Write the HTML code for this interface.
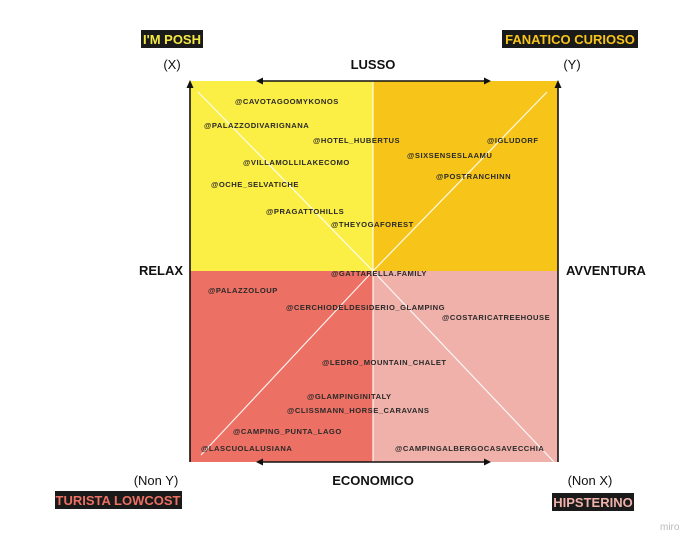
<!DOCTYPE html>
<html><head><meta charset="utf-8"><style>
html,body{margin:0;padding:0;background:#fff;}
svg text{font-family:"Liberation Sans",sans-serif;}
.t{font-size:7.6px;font-weight:bold;fill:#2a2a2a;letter-spacing:0.5px;}
.h{font-size:13px;font-weight:bold;fill:#111;}
.p{font-size:13px;fill:#111;}
.tag{font-size:13px;font-weight:bold;}
</style></head><body>
<svg width="700" height="547" xmlns="http://www.w3.org/2000/svg">
<rect x="190" y="81" width="183" height="190" fill="#fbee44"/>
<rect x="373" y="81" width="185" height="190" fill="#f7c51a"/>
<rect x="190" y="271" width="183" height="191" fill="#ec7063"/>
<rect x="373" y="271" width="185" height="191" fill="#efb1aa"/>
<g stroke="#fff" stroke-width="1.2" opacity="0.9">
<line x1="373" y1="81" x2="373" y2="462"/>
<line x1="198" y1="92" x2="373" y2="271"/>
<line x1="547" y1="92" x2="373" y2="271"/>
<line x1="201" y1="455" x2="373" y2="271"/>
<line x1="554" y1="462" x2="373" y2="271"/>
</g>
<g stroke="#111" stroke-width="1.6" fill="#111">
<line x1="190" y1="462" x2="190" y2="84"/>
<polygon points="186.5,88 193.5,88 190,80" stroke="none"/>
<line x1="558" y1="462" x2="558" y2="84"/>
<polygon points="554.5,88 561.5,88 558,80" stroke="none"/>
<line x1="260" y1="81" x2="487" y2="81"/>
<polygon points="256,81 263,77.5 263,84.5" stroke="none"/>
<polygon points="491,81 484,77.5 484,84.5" stroke="none"/>
<line x1="260" y1="462" x2="487" y2="462"/>
<polygon points="256,462 263,458.5 263,465.5" stroke="none"/>
<polygon points="491,462 484,458.5 484,465.5" stroke="none"/>
</g>
<rect x="141" y="30" width="62" height="18" fill="#1a1a1a"/>
<text x="172" y="44" text-anchor="middle" class="tag" fill="#f6e843">I'M POSH</text>
<rect x="502" y="30" width="136" height="18" fill="#1a1a1a"/>
<text x="570" y="44" text-anchor="middle" class="tag" fill="#f7c51a">FANATICO CURIOSO</text>
<rect x="55" y="491" width="127" height="18" fill="#1a1a1a"/>
<text x="118" y="505" text-anchor="middle" class="tag" fill="#ec7063">TURISTA LOWCOST</text>
<rect x="552" y="493" width="82" height="18" fill="#1a1a1a"/>
<text x="593" y="507" text-anchor="middle" class="tag" fill="#efb1aa">HIPSTERINO</text>
<text x="172" y="69" text-anchor="middle" class="p">(X)</text>
<text x="572" y="69" text-anchor="middle" class="p">(Y)</text>
<text x="156" y="485" text-anchor="middle" class="p">(Non Y)</text>
<text x="590" y="485" text-anchor="middle" class="p">(Non X)</text>
<text x="373" y="69" text-anchor="middle" class="h">LUSSO</text>
<text x="373" y="485" text-anchor="middle" class="h">ECONOMICO</text>
<text x="161" y="275" text-anchor="middle" class="h">RELAX</text>
<text x="566" y="275" class="h">AVVENTURA</text>
<g class="t">
<text x="235" y="104" class="t">@CAVOTAGOOMYKONOS</text>
<text x="204" y="128" class="t">@PALAZZODIVARIGNANA</text>
<text x="313" y="143" class="t">@HOTEL_HUBERTUS</text>
<text x="487" y="143" class="t">@IGLUDORF</text>
<text x="407" y="158" class="t">@SIXSENSESLAAMU</text>
<text x="243" y="165" class="t">@VILLAMOLLILAKECOMO</text>
<text x="436" y="179" class="t">@POSTRANCHINN</text>
<text x="211" y="187" class="t">@OCHE_SELVATICHE</text>
<text x="266" y="214" class="t">@PRAGATTOHILLS</text>
<text x="331" y="227" class="t">@THEYOGAFOREST</text>
<text x="331" y="276" class="t">@GATTARELLA.FAMILY</text>
<text x="208" y="293" class="t">@PALAZZOLOUP</text>
<text x="286" y="310" class="t">@CERCHIODELDESIDERIO_GLAMPING</text>
<text x="442" y="320" class="t">@COSTARICATREEHOUSE</text>
<text x="322" y="365" class="t">@LEDRO_MOUNTAIN_CHALET</text>
<text x="307" y="399" class="t">@GLAMPINGINITALY</text>
<text x="287" y="413" class="t">@CLISSMANN_HORSE_CARAVANS</text>
<text x="233" y="434" class="t">@CAMPING_PUNTA_LAGO</text>
<text x="201" y="451" class="t">@LASCUOLALUSIANA</text>
<text x="395" y="451" class="t">@CAMPINGALBERGOCASAVECCHIA</text>
</g>
<text x="660" y="530" font-size="10" fill="#bbb">miro</text>
</svg>
</body></html>
